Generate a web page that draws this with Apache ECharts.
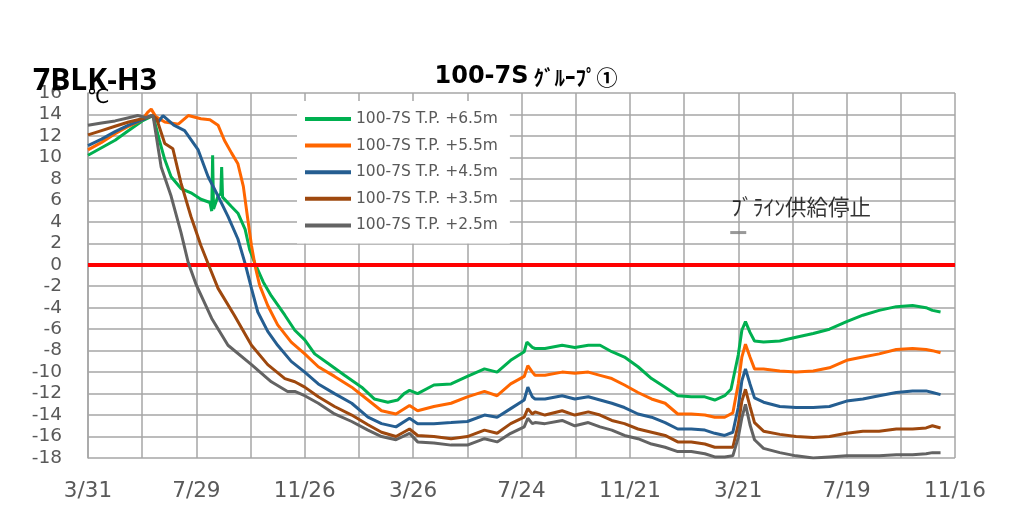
<!DOCTYPE html>
<html><head><meta charset="utf-8">
<script src="https://cdn.jsdelivr.net/npm/echarts@6/dist/echarts.min.js"></script>
<style>html,body{margin:0;padding:0;background:#fff}#c{width:1017px;height:517px}</style>
</head><body><div id="c"></div>
<script>
// x = days since 3/31 (first label)
const xTickLabels = ['3/31','7/29','11/26','3/26','7/24','11/21','3/21','7/19','11/16'];
const seriesNames = ['100-7S T.P. +6.5m','100-7S T.P. +5.5m','100-7S T.P. +4.5m','100-7S T.P. +3.5m','100-7S T.P. +2.5m'];

const tp65 = [[0,10.2],[15,10.9],[30,11.6],[45,12.5],[60,13.4],[72,13.9],[79,11.6],[85,9.8],[92,8.2],[103,7.1],[114,6.7],[125,6.1],[135,5.8],[137,5.0],[138,10.2],[139,5.2],[144,6.4],[147,6.6],[148,9.1],[149,6.3],[151,6.4],[159,5.4],[166,4.8],[174,3.3],[179,1.4],[185,0.1],[194,-1.6],[203,-2.9],[218,-4.7],[229,-6.1],[240,-7.0],[251,-8.3],[266,-9.2],[284,-10.3],[303,-11.4],[317,-12.5],[332,-12.8],[343,-12.6],[350,-12.0],[356,-11.7],[365,-12.0],[383,-11.2],[402,-11.1],[420,-10.4],[439,-9.7],[453,-10.0],[468,-8.9],[483,-8.1],[486,-7.2],[492,-7.7],[495,-7.8],[506,-7.8],[525,-7.5],[539,-7.7],[554,-7.5],[567,-7.5],[580,-8.1],[594,-8.6],[609,-9.5],[624,-10.6],[639,-11.4],[653,-12.2],[668,-12.3],[683,-12.3],[694,-12.6],[705,-12.2],[712,-11.6],[720,-8.4],[724,-6.1],[728,-5.3],[733,-6.3],[738,-7.1],[748,-7.2],[766,-7.1],[784,-6.75],[803,-6.4],[821,-6.0],[840,-5.3],[858,-4.7],[876,-4.25],[895,-3.9],[913,-3.8],[928,-4.0],[935,-4.25],[944,-4.4]];
const tp55 = [[0,10.7],[15,11.4],[30,12.2],[45,12.9],[60,13.5],[66,14.2],[70,14.5],[75,13.8],[85,13.3],[100,13.1],[111,13.9],[125,13.6],[135,13.5],[144,13.0],[151,11.6],[159,10.4],[166,9.4],[172,7.3],[177,4.2],[181,1.8],[185,-0.1],[190,-1.9],[199,-3.8],[210,-5.6],[225,-7.2],[240,-8.3],[255,-9.5],[273,-10.4],[292,-11.4],[310,-12.6],[325,-13.6],[341,-13.9],[356,-13.1],[365,-13.6],[383,-13.2],[402,-12.9],[420,-12.3],[439,-11.8],[453,-12.2],[468,-11.1],[483,-10.4],[487,-9.4],[492,-10.0],[495,-10.3],[506,-10.3],[525,-10.0],[539,-10.1],[554,-10.0],[567,-10.3],[580,-10.6],[594,-11.2],[609,-11.9],[624,-12.5],[639,-12.9],[653,-13.9],[668,-13.9],[683,-14.0],[694,-14.2],[705,-14.2],[714,-13.8],[720,-11.1],[724,-8.6],[728,-7.4],[733,-8.6],[738,-9.7],[748,-9.7],[766,-9.9],[784,-10.0],[803,-9.9],[821,-9.6],[840,-8.9],[858,-8.6],[876,-8.3],[895,-7.9],[913,-7.8],[928,-7.9],[935,-8.0],[944,-8.2]];
const tp45 = [[0,11.1],[15,11.7],[30,12.4],[45,13.0],[60,13.5],[70,13.9],[78,13.3],[83,13.9],[95,13.0],[107,12.5],[122,10.7],[133,8.2],[144,6.4],[155,4.5],[166,2.4],[174,0.1],[181,-2.2],[188,-4.4],[199,-6.2],[210,-7.5],[225,-9.0],[240,-10.0],[255,-11.1],[273,-12.0],[292,-12.9],[310,-14.2],[325,-14.8],[341,-15.1],[356,-14.3],[365,-14.8],[383,-14.8],[402,-14.7],[420,-14.6],[439,-14.0],[453,-14.2],[468,-13.4],[483,-12.6],[487,-11.4],[492,-12.3],[495,-12.5],[506,-12.5],[525,-12.2],[539,-12.5],[554,-12.3],[567,-12.6],[580,-12.9],[594,-13.3],[609,-13.9],[624,-14.2],[639,-14.7],[653,-15.3],[668,-15.3],[683,-15.4],[694,-15.7],[705,-15.9],[714,-15.6],[720,-13.3],[724,-10.8],[728,-9.7],[733,-11.1],[738,-12.4],[748,-12.8],[766,-13.2],[784,-13.3],[803,-13.3],[821,-13.2],[840,-12.7],[858,-12.5],[876,-12.2],[895,-11.9],[913,-11.75],[928,-11.75],[935,-11.9],[944,-12.1]];
const tp35 = [[0,12.1],[15,12.5],[30,12.9],[45,13.3],[60,13.6],[72,13.9],[76,13.6],[85,11.3],[94,10.8],[103,7.6],[114,4.5],[125,1.8],[133,0.1],[144,-2.2],[162,-4.7],[181,-7.5],[199,-9.3],[218,-10.6],[229,-10.9],[240,-11.4],[255,-12.3],[273,-13.2],[292,-14.0],[310,-14.9],[325,-15.6],[341,-16.0],[356,-15.3],[365,-15.9],[383,-16.0],[402,-16.2],[420,-16.0],[439,-15.4],[453,-15.7],[468,-14.8],[483,-14.2],[487,-13.4],[492,-13.9],[495,-13.7],[506,-14.0],[525,-13.6],[539,-14.0],[554,-13.7],[567,-14.0],[580,-14.5],[594,-14.8],[609,-15.3],[624,-15.6],[639,-15.9],[653,-16.5],[668,-16.5],[683,-16.7],[694,-17.0],[705,-17.0],[714,-17.0],[720,-14.9],[724,-12.7],[728,-11.6],[733,-13.2],[738,-14.7],[748,-15.5],[766,-15.8],[784,-16.0],[803,-16.1],[821,-16.0],[840,-15.7],[858,-15.5],[876,-15.5],[895,-15.3],[913,-15.3],[928,-15.2],[935,-15.0],[944,-15.2]];
const tp25 = [[0,13.0],[15,13.2],[30,13.4],[45,13.7],[55,13.9],[65,13.7],[72,13.9],[81,9.1],[92,6.4],[103,3.0],[111,0.2],[120,-1.9],[137,-5.0],[155,-7.5],[181,-9.3],[203,-10.9],[221,-11.8],[229,-11.8],[240,-12.2],[255,-12.9],[273,-13.9],[292,-14.6],[310,-15.4],[325,-16.0],[341,-16.3],[356,-15.7],[365,-16.5],[383,-16.6],[402,-16.8],[420,-16.8],[439,-16.2],[453,-16.5],[468,-15.7],[483,-15.1],[487,-14.3],[492,-14.8],[495,-14.7],[506,-14.8],[525,-14.5],[539,-15.0],[554,-14.7],[567,-15.1],[580,-15.4],[594,-15.9],[609,-16.2],[624,-16.7],[639,-17.0],[653,-17.4],[668,-17.4],[683,-17.6],[694,-17.9],[705,-17.9],[714,-17.8],[720,-16.1],[724,-14.25],[728,-13.0],[733,-14.9],[738,-16.3],[748,-17.1],[766,-17.5],[784,-17.8],[803,-18.0],[821,-17.9],[840,-17.8],[858,-17.8],[876,-17.8],[895,-17.7],[913,-17.7],[928,-17.6],[935,-17.5],[944,-17.5]];
const annotationPoint = [720, 3];
const annotationText = 'ﾌﾞﾗｲﾝ供給停止';
const colors = ['#00B050','#FF6600','#255E91','#9E480E','#636363'];

const chart = echarts.init(document.getElementById('c'), null, {renderer:'canvas'});
const dataSets = [tp65, tp55, tp45, tp35, tp25];
const series = dataSets.map((d,i)=>({
  name: seriesNames[i], type:'line', data:d, symbol:'none', smooth:false,
  lineStyle:{color:colors[i], width:3}, itemStyle:{color:colors[i]}, z:2+i
}));
series[4].markLine = {
  silent:true, symbol:'none', label:{show:false},
  lineStyle:{color:'#FF0000', width:4, type:'solid'},
  data:[{yAxis:0}]
};
series.push({
  type:'scatter', name:'annot', data:[annotationPoint], symbol:'rect', symbolSize:[16,3],
  itemStyle:{color:'#7F7F7F'}, silent:true, z:10,
  label:{show:true, position:'inside', offset:[-7,-26], align:'left', verticalAlign:'middle',
    formatter:annotationText, color:'#000', fontSize:21.5, fontFamily:'Noto Sans CJK JP'}
});

chart.setOption({
  animation:false,
  backgroundColor:'#fff',
  grid:{left:88, right:62, top:93, bottom:59, containLabel:false},
  title:[
    {text:'{a|100-7S} {b|ｸﾞﾙｰﾌﾟ①}', left:521, top:60, textAlign:'center',
     textStyle:{rich:{a:{fontFamily:'DejaVu Sans', fontWeight:'bold', fontSize:24, color:'#000'},
       b:{fontFamily:'Noto Sans CJK JP', fontWeight:'bold', fontSize:21, color:'#000'}}}},
    {text:'7BLK-H3', left:33, top:66, padding:0,
     textStyle:{fontFamily:'Open Sans', fontWeight:'bold', fontSize:30, color:'#000'}},
    {text:'℃', left:87, top:88, padding:0,
     textStyle:{fontFamily:'DejaVu Sans', fontWeight:'normal', fontSize:20, color:'#000'}}
  ],
  legend:{
    data:seriesNames.map(n=>({name:n, icon:'rect'})), orient:'vertical', left:297, top:101,
    padding:[10,12,10,8], backgroundColor:'#fff',
    itemWidth:46, itemHeight:4, itemGap:10.6,
    textStyle:{fontFamily:'DejaVu Sans', fontSize:15.5, color:'#595959', lineHeight:16}
  },
  xAxis:{
    type:'value', min:0, max:960, interval:60,
    axisLine:{show:true, lineStyle:{color:'#A6A6A6', width:1.5}},
    axisTick:{show:false},
    splitLine:{show:true, lineStyle:{color:'#A6A6A6', width:1.5}},
    axisLabel:{margin:22, fontFamily:'DejaVu Sans', fontSize:21.5, color:'#595959',
      formatter:v=> (v%120===0 ? xTickLabels[v/120] : '')}
  },
  yAxis:{
    type:'value', min:-18, max:16, interval:2,
    axisLine:{show:true, lineStyle:{color:'#A6A6A6', width:1.5}},
    axisTick:{show:false},
    splitLine:{show:true, lineStyle:{color:'#A6A6A6', width:1.5}},
    axisLabel:{margin:26, fontFamily:'DejaVu Sans', fontSize:18.5, color:'#595959'}
  },
  series:series
});
</script></body></html>
